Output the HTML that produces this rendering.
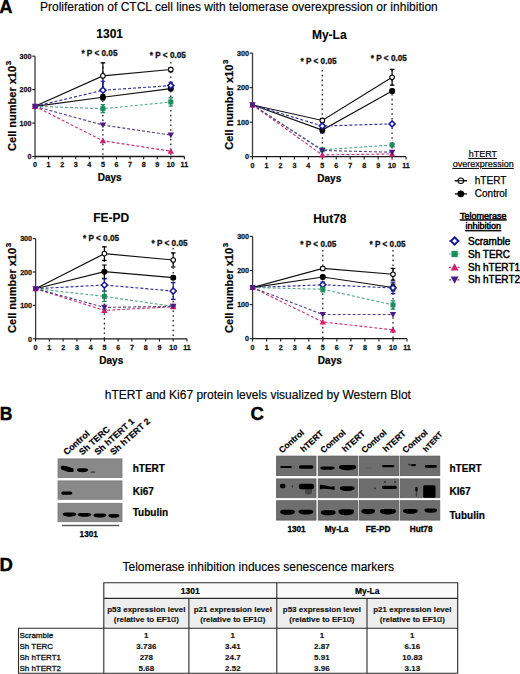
<!DOCTYPE html>
<html><head><meta charset="utf-8"><style>
html,body{margin:0;padding:0;background:#fff;}
body{width:520px;height:674px;overflow:hidden;position:relative;font-family:"Liberation Sans", sans-serif;}
svg{position:absolute;left:0;top:0;}
svg text{font-family:"Liberation Sans", sans-serif;}
</style></head><body>
<svg width="520" height="674" viewBox="0 0 520 674">
<text transform="translate(-0.8,12.6)" font-size="18.5" font-weight="bold" stroke="#000" stroke-width="0.3">A</text>
<text x="40.00" y="10.50" font-size="12" font-weight="normal" text-anchor="start" fill="#000" stroke="#000" stroke-width="0.15" >Proliferation of CTCL cell lines with telomerase overexpression or inhibition</text>
<text x="109.69" y="37.60" font-size="12" font-weight="bold" text-anchor="middle" fill="#000" stroke="#000" stroke-width="0.1" >1301</text>
<line x1="102.90" y1="62.00" x2="102.90" y2="156.50" stroke="#222" stroke-width="1.3" stroke-dasharray="1.6 3.2"/>
<line x1="170.80" y1="62.00" x2="170.80" y2="156.50" stroke="#222" stroke-width="1.3" stroke-dasharray="1.6 3.2"/>
<path d="M35.00,56.15 V156.50" fill="none" stroke="#3a3a3a" stroke-width="1.3"/>
<path d="M35.00,156.50 H184.38" fill="none" stroke="#1a1a1a" stroke-width="1.3"/>
<line x1="32.20" y1="156.50" x2="35.00" y2="156.50" stroke="#1a1a1a" stroke-width="1.1"/>
<text transform="translate(31.50,159.25) scale(0.92,1)" font-size="7.8" font-weight="bold" text-anchor="end" fill="#111" stroke="#111" stroke-width="0.25">0</text>
<line x1="32.20" y1="123.05" x2="35.00" y2="123.05" stroke="#1a1a1a" stroke-width="1.1"/>
<text transform="translate(31.50,125.80) scale(0.92,1)" font-size="7.8" font-weight="bold" text-anchor="end" fill="#111" stroke="#111" stroke-width="0.25">100</text>
<line x1="32.20" y1="89.60" x2="35.00" y2="89.60" stroke="#1a1a1a" stroke-width="1.1"/>
<text transform="translate(31.50,92.35) scale(0.92,1)" font-size="7.8" font-weight="bold" text-anchor="end" fill="#111" stroke="#111" stroke-width="0.25">200</text>
<line x1="32.20" y1="56.15" x2="35.00" y2="56.15" stroke="#1a1a1a" stroke-width="1.1"/>
<text transform="translate(31.50,58.90) scale(0.92,1)" font-size="7.8" font-weight="bold" text-anchor="end" fill="#111" stroke="#111" stroke-width="0.25">300</text>
<line x1="35.00" y1="156.50" x2="35.00" y2="159.30" stroke="#1a1a1a" stroke-width="1.1"/>
<text transform="translate(35.00,167.30) scale(0.92,1)" font-size="7.8" font-weight="bold" text-anchor="middle" fill="#111" stroke="#111" stroke-width="0.25">0</text>
<line x1="48.58" y1="156.50" x2="48.58" y2="159.30" stroke="#1a1a1a" stroke-width="1.1"/>
<text transform="translate(48.58,167.30) scale(0.92,1)" font-size="7.8" font-weight="bold" text-anchor="middle" fill="#111" stroke="#111" stroke-width="0.25">1</text>
<line x1="62.16" y1="156.50" x2="62.16" y2="159.30" stroke="#1a1a1a" stroke-width="1.1"/>
<text transform="translate(62.16,167.30) scale(0.92,1)" font-size="7.8" font-weight="bold" text-anchor="middle" fill="#111" stroke="#111" stroke-width="0.25">2</text>
<line x1="75.74" y1="156.50" x2="75.74" y2="159.30" stroke="#1a1a1a" stroke-width="1.1"/>
<text transform="translate(75.74,167.30) scale(0.92,1)" font-size="7.8" font-weight="bold" text-anchor="middle" fill="#111" stroke="#111" stroke-width="0.25">3</text>
<line x1="89.32" y1="156.50" x2="89.32" y2="159.30" stroke="#1a1a1a" stroke-width="1.1"/>
<text transform="translate(89.32,167.30) scale(0.92,1)" font-size="7.8" font-weight="bold" text-anchor="middle" fill="#111" stroke="#111" stroke-width="0.25">4</text>
<line x1="102.90" y1="156.50" x2="102.90" y2="159.30" stroke="#1a1a1a" stroke-width="1.1"/>
<text transform="translate(102.90,167.30) scale(0.92,1)" font-size="7.8" font-weight="bold" text-anchor="middle" fill="#111" stroke="#111" stroke-width="0.25">5</text>
<line x1="116.48" y1="156.50" x2="116.48" y2="159.30" stroke="#1a1a1a" stroke-width="1.1"/>
<text transform="translate(116.48,167.30) scale(0.92,1)" font-size="7.8" font-weight="bold" text-anchor="middle" fill="#111" stroke="#111" stroke-width="0.25">6</text>
<line x1="130.06" y1="156.50" x2="130.06" y2="159.30" stroke="#1a1a1a" stroke-width="1.1"/>
<text transform="translate(130.06,167.30) scale(0.92,1)" font-size="7.8" font-weight="bold" text-anchor="middle" fill="#111" stroke="#111" stroke-width="0.25">7</text>
<line x1="143.64" y1="156.50" x2="143.64" y2="159.30" stroke="#1a1a1a" stroke-width="1.1"/>
<text transform="translate(143.64,167.30) scale(0.92,1)" font-size="7.8" font-weight="bold" text-anchor="middle" fill="#111" stroke="#111" stroke-width="0.25">8</text>
<line x1="157.22" y1="156.50" x2="157.22" y2="159.30" stroke="#1a1a1a" stroke-width="1.1"/>
<text transform="translate(157.22,167.30) scale(0.92,1)" font-size="7.8" font-weight="bold" text-anchor="middle" fill="#111" stroke="#111" stroke-width="0.25">9</text>
<line x1="170.80" y1="156.50" x2="170.80" y2="159.30" stroke="#1a1a1a" stroke-width="1.1"/>
<text transform="translate(170.80,167.30) scale(0.92,1)" font-size="7.8" font-weight="bold" text-anchor="middle" fill="#111" stroke="#111" stroke-width="0.25">10</text>
<line x1="184.38" y1="156.50" x2="184.38" y2="159.30" stroke="#1a1a1a" stroke-width="1.1"/>
<text transform="translate(184.38,167.30) scale(0.92,1)" font-size="7.8" font-weight="bold" text-anchor="middle" fill="#111" stroke="#111" stroke-width="0.25">11</text>
<text x="109.69" y="181.30" font-size="10" font-weight="bold" text-anchor="middle" fill="#000" stroke="#000" stroke-width="0.2" >Days</text>
<text transform="translate(16.00,150.90) rotate(-90)" font-size="11" font-weight="bold" stroke="#000" stroke-width="0.2">Cell number x10<tspan font-size="8" dx="0.6" dy="-4.6">3</tspan></text>
<text x="81.40" y="56.20" font-size="8.2" font-weight="bold" text-anchor="start" fill="#111" stroke="#111" stroke-width="0.3" >* P &lt; 0.05</text>
<text x="149.80" y="58.10" font-size="8.2" font-weight="bold" text-anchor="start" fill="#111" stroke="#111" stroke-width="0.3" >* P &lt; 0.05</text>
<path d="M35.00,106.32 L102.90,75.89 L170.80,69.53" fill="none" stroke="#111" stroke-width="1.15" />
<path d="M35.00,106.32 L102.90,97.29 L170.80,88.60" fill="none" stroke="#111" stroke-width="1.15" />
<path d="M35.00,106.32 L102.90,90.27 L170.80,85.59" fill="none" stroke="#34349a" stroke-width="1.15" stroke-dasharray="3 2"/>
<path d="M35.00,106.32 L102.90,108.67 L170.80,101.98" fill="none" stroke="#5aa88c" stroke-width="1.15" stroke-dasharray="3 2"/>
<path d="M35.00,106.32 L102.90,140.78 L170.80,151.15" fill="none" stroke="#c4387c" stroke-width="1.15" stroke-dasharray="3 2"/>
<path d="M35.00,106.32 L102.90,125.06 L170.80,135.09" fill="none" stroke="#5a4480" stroke-width="1.15" stroke-dasharray="3 2"/>
<path d="M102.90,62.84 V88.93 M100.60,62.84 h4.6 M100.60,88.93 h4.6" stroke="#000" stroke-width="1.2" fill="none"/>
<path d="M170.80,67.52 V71.54 M168.50,67.52 h4.6 M168.50,71.54 h4.6" stroke="#000" stroke-width="1.2" fill="none"/>
<path d="M102.90,94.62 V99.97 M100.60,94.62 h4.6 M100.60,99.97 h4.6" stroke="#000" stroke-width="1.2" fill="none"/>
<path d="M170.80,86.59 V90.60 M168.50,86.59 h4.6 M168.50,90.60 h4.6" stroke="#000" stroke-width="1.2" fill="none"/>
<path d="M102.90,81.24 V99.30 M100.60,81.24 h4.6 M100.60,99.30 h4.6" stroke="#1a1a96" stroke-width="1.2" fill="none"/>
<path d="M170.80,82.24 V88.93 M168.50,82.24 h4.6 M168.50,88.93 h4.6" stroke="#1a1a96" stroke-width="1.2" fill="none"/>
<path d="M102.90,104.65 V112.68 M100.60,104.65 h4.6 M100.60,112.68 h4.6" stroke="#1c8c5e" stroke-width="1.2" fill="none"/>
<path d="M170.80,97.96 V105.99 M168.50,97.96 h4.6 M168.50,105.99 h4.6" stroke="#1c8c5e" stroke-width="1.2" fill="none"/>
<circle cx="102.90" cy="75.89" r="2.30" fill="#fff" stroke="#000" stroke-width="1.05"/>
<circle cx="170.80" cy="69.53" r="2.30" fill="#fff" stroke="#000" stroke-width="1.05"/>
<circle cx="102.90" cy="97.29" r="3.00" fill="#000"/>
<circle cx="170.80" cy="88.60" r="3.00" fill="#000"/>
<path d="M102.90,87.27 L105.90,90.27 L102.90,93.27 L99.90,90.27Z" fill="#fff" stroke="#1a1a96" stroke-width="1.55"/>
<path d="M170.80,82.59 L173.80,85.59 L170.80,88.59 L167.80,85.59Z" fill="#fff" stroke="#1a1a96" stroke-width="1.55"/>
<rect x="100.40" y="106.17" width="5.00" height="5.00" fill="#1c8c5e"/>
<rect x="168.30" y="99.48" width="5.00" height="5.00" fill="#1c8c5e"/>
<path d="M35.00,103.12 L38.20,108.88 L31.80,108.88Z" fill="#d81e6a"/>
<path d="M102.90,137.58 L106.10,143.34 L99.70,143.34Z" fill="#d81e6a"/>
<path d="M170.80,147.95 L174.00,153.71 L167.60,153.71Z" fill="#d81e6a"/>
<path d="M35.00,109.52 L38.20,103.76 L31.80,103.76Z" fill="#4e1a86"/>
<path d="M102.90,128.26 L106.10,122.50 L99.70,122.50Z" fill="#4e1a86"/>
<path d="M170.80,138.29 L174.00,132.53 L167.60,132.53Z" fill="#4e1a86"/>
<circle cx="35.00" cy="106.32" r="2.6" fill="#5a1a8a"/>
<text x="329.28" y="39.20" font-size="12" font-weight="bold" text-anchor="middle" fill="#000" stroke="#000" stroke-width="0.1" >My-La</text>
<line x1="322.30" y1="70.00" x2="322.30" y2="156.70" stroke="#222" stroke-width="1.3" stroke-dasharray="1.6 3.2"/>
<line x1="392.10" y1="70.00" x2="392.10" y2="156.70" stroke="#222" stroke-width="1.3" stroke-dasharray="1.6 3.2"/>
<path d="M252.50,53.11 V156.70" fill="none" stroke="#3a3a3a" stroke-width="1.3"/>
<path d="M252.50,156.70 H406.06" fill="none" stroke="#1a1a1a" stroke-width="1.3"/>
<line x1="249.70" y1="156.70" x2="252.50" y2="156.70" stroke="#1a1a1a" stroke-width="1.1"/>
<text transform="translate(249.00,159.45) scale(0.92,1)" font-size="7.8" font-weight="bold" text-anchor="end" fill="#111" stroke="#111" stroke-width="0.25">0</text>
<line x1="249.70" y1="122.17" x2="252.50" y2="122.17" stroke="#1a1a1a" stroke-width="1.1"/>
<text transform="translate(249.00,124.92) scale(0.92,1)" font-size="7.8" font-weight="bold" text-anchor="end" fill="#111" stroke="#111" stroke-width="0.25">100</text>
<line x1="249.70" y1="87.64" x2="252.50" y2="87.64" stroke="#1a1a1a" stroke-width="1.1"/>
<text transform="translate(249.00,90.39) scale(0.92,1)" font-size="7.8" font-weight="bold" text-anchor="end" fill="#111" stroke="#111" stroke-width="0.25">200</text>
<line x1="249.70" y1="53.11" x2="252.50" y2="53.11" stroke="#1a1a1a" stroke-width="1.1"/>
<text transform="translate(249.00,55.86) scale(0.92,1)" font-size="7.8" font-weight="bold" text-anchor="end" fill="#111" stroke="#111" stroke-width="0.25">300</text>
<line x1="252.50" y1="156.70" x2="252.50" y2="159.50" stroke="#1a1a1a" stroke-width="1.1"/>
<text transform="translate(252.50,167.50) scale(0.92,1)" font-size="7.8" font-weight="bold" text-anchor="middle" fill="#111" stroke="#111" stroke-width="0.25">0</text>
<line x1="266.46" y1="156.70" x2="266.46" y2="159.50" stroke="#1a1a1a" stroke-width="1.1"/>
<text transform="translate(266.46,167.50) scale(0.92,1)" font-size="7.8" font-weight="bold" text-anchor="middle" fill="#111" stroke="#111" stroke-width="0.25">1</text>
<line x1="280.42" y1="156.70" x2="280.42" y2="159.50" stroke="#1a1a1a" stroke-width="1.1"/>
<text transform="translate(280.42,167.50) scale(0.92,1)" font-size="7.8" font-weight="bold" text-anchor="middle" fill="#111" stroke="#111" stroke-width="0.25">2</text>
<line x1="294.38" y1="156.70" x2="294.38" y2="159.50" stroke="#1a1a1a" stroke-width="1.1"/>
<text transform="translate(294.38,167.50) scale(0.92,1)" font-size="7.8" font-weight="bold" text-anchor="middle" fill="#111" stroke="#111" stroke-width="0.25">3</text>
<line x1="308.34" y1="156.70" x2="308.34" y2="159.50" stroke="#1a1a1a" stroke-width="1.1"/>
<text transform="translate(308.34,167.50) scale(0.92,1)" font-size="7.8" font-weight="bold" text-anchor="middle" fill="#111" stroke="#111" stroke-width="0.25">4</text>
<line x1="322.30" y1="156.70" x2="322.30" y2="159.50" stroke="#1a1a1a" stroke-width="1.1"/>
<text transform="translate(322.30,167.50) scale(0.92,1)" font-size="7.8" font-weight="bold" text-anchor="middle" fill="#111" stroke="#111" stroke-width="0.25">5</text>
<line x1="336.26" y1="156.70" x2="336.26" y2="159.50" stroke="#1a1a1a" stroke-width="1.1"/>
<text transform="translate(336.26,167.50) scale(0.92,1)" font-size="7.8" font-weight="bold" text-anchor="middle" fill="#111" stroke="#111" stroke-width="0.25">6</text>
<line x1="350.22" y1="156.70" x2="350.22" y2="159.50" stroke="#1a1a1a" stroke-width="1.1"/>
<text transform="translate(350.22,167.50) scale(0.92,1)" font-size="7.8" font-weight="bold" text-anchor="middle" fill="#111" stroke="#111" stroke-width="0.25">7</text>
<line x1="364.18" y1="156.70" x2="364.18" y2="159.50" stroke="#1a1a1a" stroke-width="1.1"/>
<text transform="translate(364.18,167.50) scale(0.92,1)" font-size="7.8" font-weight="bold" text-anchor="middle" fill="#111" stroke="#111" stroke-width="0.25">8</text>
<line x1="378.14" y1="156.70" x2="378.14" y2="159.50" stroke="#1a1a1a" stroke-width="1.1"/>
<text transform="translate(378.14,167.50) scale(0.92,1)" font-size="7.8" font-weight="bold" text-anchor="middle" fill="#111" stroke="#111" stroke-width="0.25">9</text>
<line x1="392.10" y1="156.70" x2="392.10" y2="159.50" stroke="#1a1a1a" stroke-width="1.1"/>
<text transform="translate(392.10,167.50) scale(0.92,1)" font-size="7.8" font-weight="bold" text-anchor="middle" fill="#111" stroke="#111" stroke-width="0.25">10</text>
<line x1="406.06" y1="156.70" x2="406.06" y2="159.50" stroke="#1a1a1a" stroke-width="1.1"/>
<text transform="translate(406.06,167.50) scale(0.92,1)" font-size="7.8" font-weight="bold" text-anchor="middle" fill="#111" stroke="#111" stroke-width="0.25">11</text>
<text x="329.28" y="181.50" font-size="10" font-weight="bold" text-anchor="middle" fill="#000" stroke="#000" stroke-width="0.2" >Days</text>
<text transform="translate(233.00,149.70) rotate(-90)" font-size="11" font-weight="bold" stroke="#000" stroke-width="0.2">Cell number x10<tspan font-size="8" dx="0.6" dy="-4.6">3</tspan></text>
<text x="300.50" y="64.30" font-size="8.2" font-weight="bold" text-anchor="start" fill="#111" stroke="#111" stroke-width="0.3" >* P &lt; 0.05</text>
<text x="370.80" y="61.30" font-size="8.2" font-weight="bold" text-anchor="start" fill="#111" stroke="#111" stroke-width="0.3" >* P &lt; 0.05</text>
<path d="M252.50,104.90 L322.30,120.44 L392.10,77.28" fill="none" stroke="#111" stroke-width="1.15" />
<path d="M252.50,104.90 L322.30,130.11 L392.10,91.09" fill="none" stroke="#111" stroke-width="1.15" />
<path d="M252.50,104.90 L322.30,125.97 L392.10,123.90" fill="none" stroke="#34349a" stroke-width="1.15" stroke-dasharray="3 2"/>
<path d="M252.50,104.90 L322.30,149.79 L392.10,144.96" fill="none" stroke="#5aa88c" stroke-width="1.15" stroke-dasharray="3 2"/>
<path d="M252.50,104.90 L322.30,154.97 L392.10,153.94" fill="none" stroke="#c4387c" stroke-width="1.15" stroke-dasharray="3 2"/>
<path d="M252.50,104.90 L322.30,150.48 L392.10,152.21" fill="none" stroke="#5a4480" stroke-width="1.15" stroke-dasharray="3 2"/>
<path d="M322.30,118.72 V122.17 M320.00,118.72 h4.6 M320.00,122.17 h4.6" stroke="#000" stroke-width="1.2" fill="none"/>
<path d="M392.10,69.34 V85.22 M389.80,69.34 h4.6 M389.80,85.22 h4.6" stroke="#000" stroke-width="1.2" fill="none"/>
<path d="M322.30,127.35 V132.87 M320.00,127.35 h4.6 M320.00,132.87 h4.6" stroke="#000" stroke-width="1.2" fill="none"/>
<path d="M392.10,89.37 V92.82 M389.80,89.37 h4.6 M389.80,92.82 h4.6" stroke="#000" stroke-width="1.2" fill="none"/>
<path d="M322.30,124.24 V127.69 M320.00,124.24 h4.6 M320.00,127.69 h4.6" stroke="#1a1a96" stroke-width="1.2" fill="none"/>
<circle cx="322.30" cy="120.44" r="2.30" fill="#fff" stroke="#000" stroke-width="1.05"/>
<circle cx="392.10" cy="77.28" r="2.30" fill="#fff" stroke="#000" stroke-width="1.05"/>
<circle cx="322.30" cy="130.11" r="3.00" fill="#000"/>
<circle cx="392.10" cy="91.09" r="3.00" fill="#000"/>
<path d="M322.30,122.97 L325.30,125.97 L322.30,128.97 L319.30,125.97Z" fill="#fff" stroke="#1a1a96" stroke-width="1.55"/>
<path d="M392.10,120.90 L395.10,123.90 L392.10,126.90 L389.10,123.90Z" fill="#fff" stroke="#1a1a96" stroke-width="1.55"/>
<rect x="319.80" y="147.29" width="5.00" height="5.00" fill="#1c8c5e"/>
<rect x="389.60" y="142.46" width="5.00" height="5.00" fill="#1c8c5e"/>
<path d="M252.50,101.70 L255.70,107.46 L249.30,107.46Z" fill="#d81e6a"/>
<path d="M322.30,151.77 L325.50,157.53 L319.10,157.53Z" fill="#d81e6a"/>
<path d="M392.10,150.74 L395.30,156.50 L388.90,156.50Z" fill="#d81e6a"/>
<path d="M252.50,108.10 L255.70,102.34 L249.30,102.34Z" fill="#4e1a86"/>
<path d="M322.30,153.68 L325.50,147.92 L319.10,147.92Z" fill="#4e1a86"/>
<path d="M392.10,155.41 L395.30,149.65 L388.90,149.65Z" fill="#4e1a86"/>
<circle cx="252.50" cy="104.90" r="2.6" fill="#5a1a8a"/>
<text x="111.28" y="221.50" font-size="12" font-weight="bold" text-anchor="middle" fill="#000" stroke="#000" stroke-width="0.1" >FE-PD</text>
<line x1="104.40" y1="246.00" x2="104.40" y2="338.80" stroke="#222" stroke-width="1.3" stroke-dasharray="1.6 3.2"/>
<line x1="173.20" y1="248.00" x2="173.20" y2="338.80" stroke="#222" stroke-width="1.3" stroke-dasharray="1.6 3.2"/>
<path d="M35.60,238.60 V338.80" fill="none" stroke="#3a3a3a" stroke-width="1.3"/>
<path d="M35.60,338.80 H186.96" fill="none" stroke="#1a1a1a" stroke-width="1.3"/>
<line x1="32.80" y1="338.80" x2="35.60" y2="338.80" stroke="#1a1a1a" stroke-width="1.1"/>
<text transform="translate(32.10,341.55) scale(0.92,1)" font-size="7.8" font-weight="bold" text-anchor="end" fill="#111" stroke="#111" stroke-width="0.25">0</text>
<line x1="32.80" y1="305.40" x2="35.60" y2="305.40" stroke="#1a1a1a" stroke-width="1.1"/>
<text transform="translate(32.10,308.15) scale(0.92,1)" font-size="7.8" font-weight="bold" text-anchor="end" fill="#111" stroke="#111" stroke-width="0.25">100</text>
<line x1="32.80" y1="272.00" x2="35.60" y2="272.00" stroke="#1a1a1a" stroke-width="1.1"/>
<text transform="translate(32.10,274.75) scale(0.92,1)" font-size="7.8" font-weight="bold" text-anchor="end" fill="#111" stroke="#111" stroke-width="0.25">200</text>
<line x1="32.80" y1="238.60" x2="35.60" y2="238.60" stroke="#1a1a1a" stroke-width="1.1"/>
<text transform="translate(32.10,241.35) scale(0.92,1)" font-size="7.8" font-weight="bold" text-anchor="end" fill="#111" stroke="#111" stroke-width="0.25">300</text>
<line x1="35.60" y1="338.80" x2="35.60" y2="341.60" stroke="#1a1a1a" stroke-width="1.1"/>
<text transform="translate(35.60,349.60) scale(0.92,1)" font-size="7.8" font-weight="bold" text-anchor="middle" fill="#111" stroke="#111" stroke-width="0.25">0</text>
<line x1="49.36" y1="338.80" x2="49.36" y2="341.60" stroke="#1a1a1a" stroke-width="1.1"/>
<text transform="translate(49.36,349.60) scale(0.92,1)" font-size="7.8" font-weight="bold" text-anchor="middle" fill="#111" stroke="#111" stroke-width="0.25">1</text>
<line x1="63.12" y1="338.80" x2="63.12" y2="341.60" stroke="#1a1a1a" stroke-width="1.1"/>
<text transform="translate(63.12,349.60) scale(0.92,1)" font-size="7.8" font-weight="bold" text-anchor="middle" fill="#111" stroke="#111" stroke-width="0.25">2</text>
<line x1="76.88" y1="338.80" x2="76.88" y2="341.60" stroke="#1a1a1a" stroke-width="1.1"/>
<text transform="translate(76.88,349.60) scale(0.92,1)" font-size="7.8" font-weight="bold" text-anchor="middle" fill="#111" stroke="#111" stroke-width="0.25">3</text>
<line x1="90.64" y1="338.80" x2="90.64" y2="341.60" stroke="#1a1a1a" stroke-width="1.1"/>
<text transform="translate(90.64,349.60) scale(0.92,1)" font-size="7.8" font-weight="bold" text-anchor="middle" fill="#111" stroke="#111" stroke-width="0.25">4</text>
<line x1="104.40" y1="338.80" x2="104.40" y2="341.60" stroke="#1a1a1a" stroke-width="1.1"/>
<text transform="translate(104.40,349.60) scale(0.92,1)" font-size="7.8" font-weight="bold" text-anchor="middle" fill="#111" stroke="#111" stroke-width="0.25">5</text>
<line x1="118.16" y1="338.80" x2="118.16" y2="341.60" stroke="#1a1a1a" stroke-width="1.1"/>
<text transform="translate(118.16,349.60) scale(0.92,1)" font-size="7.8" font-weight="bold" text-anchor="middle" fill="#111" stroke="#111" stroke-width="0.25">6</text>
<line x1="131.92" y1="338.80" x2="131.92" y2="341.60" stroke="#1a1a1a" stroke-width="1.1"/>
<text transform="translate(131.92,349.60) scale(0.92,1)" font-size="7.8" font-weight="bold" text-anchor="middle" fill="#111" stroke="#111" stroke-width="0.25">7</text>
<line x1="145.68" y1="338.80" x2="145.68" y2="341.60" stroke="#1a1a1a" stroke-width="1.1"/>
<text transform="translate(145.68,349.60) scale(0.92,1)" font-size="7.8" font-weight="bold" text-anchor="middle" fill="#111" stroke="#111" stroke-width="0.25">8</text>
<line x1="159.44" y1="338.80" x2="159.44" y2="341.60" stroke="#1a1a1a" stroke-width="1.1"/>
<text transform="translate(159.44,349.60) scale(0.92,1)" font-size="7.8" font-weight="bold" text-anchor="middle" fill="#111" stroke="#111" stroke-width="0.25">9</text>
<line x1="173.20" y1="338.80" x2="173.20" y2="341.60" stroke="#1a1a1a" stroke-width="1.1"/>
<text transform="translate(173.20,349.60) scale(0.92,1)" font-size="7.8" font-weight="bold" text-anchor="middle" fill="#111" stroke="#111" stroke-width="0.25">10</text>
<line x1="186.96" y1="338.80" x2="186.96" y2="341.60" stroke="#1a1a1a" stroke-width="1.1"/>
<text transform="translate(186.96,349.60) scale(0.92,1)" font-size="7.8" font-weight="bold" text-anchor="middle" fill="#111" stroke="#111" stroke-width="0.25">11</text>
<text x="111.28" y="363.60" font-size="10" font-weight="bold" text-anchor="middle" fill="#000" stroke="#000" stroke-width="0.2" >Days</text>
<text transform="translate(15.70,332.90) rotate(-90)" font-size="11" font-weight="bold" stroke="#000" stroke-width="0.2">Cell number x10<tspan font-size="8" dx="0.6" dy="-4.6">3</tspan></text>
<text x="83.00" y="241.00" font-size="8.2" font-weight="bold" text-anchor="start" fill="#111" stroke="#111" stroke-width="0.3" >* P &lt; 0.05</text>
<text x="151.50" y="245.80" font-size="8.2" font-weight="bold" text-anchor="start" fill="#111" stroke="#111" stroke-width="0.3" >* P &lt; 0.05</text>
<path d="M35.60,288.70 L104.40,253.63 L173.20,259.98" fill="none" stroke="#111" stroke-width="1.15" />
<path d="M35.60,288.70 L104.40,271.67 L173.20,277.68" fill="none" stroke="#111" stroke-width="1.15" />
<path d="M35.60,288.70 L104.40,285.03 L173.20,291.04" fill="none" stroke="#34349a" stroke-width="1.15" stroke-dasharray="3 2"/>
<path d="M35.60,288.70 L104.40,296.38 L173.20,306.40" fill="none" stroke="#5aa88c" stroke-width="1.15" stroke-dasharray="3 2"/>
<path d="M35.60,288.70 L104.40,310.41 L173.20,306.74" fill="none" stroke="#c4387c" stroke-width="1.15" stroke-dasharray="3 2"/>
<path d="M35.60,288.70 L104.40,307.40 L173.20,306.40" fill="none" stroke="#5a4480" stroke-width="1.15" stroke-dasharray="3 2"/>
<path d="M104.40,246.95 V260.31 M102.10,246.95 h4.6 M102.10,260.31 h4.6" stroke="#000" stroke-width="1.2" fill="none"/>
<path d="M173.20,252.96 V266.99 M170.90,252.96 h4.6 M170.90,266.99 h4.6" stroke="#000" stroke-width="1.2" fill="none"/>
<path d="M104.40,264.99 V278.35 M102.10,264.99 h4.6 M102.10,278.35 h4.6" stroke="#000" stroke-width="1.2" fill="none"/>
<path d="M173.20,276.01 V279.35 M170.90,276.01 h4.6 M170.90,279.35 h4.6" stroke="#000" stroke-width="1.2" fill="none"/>
<path d="M104.40,279.01 V291.04 M102.10,279.01 h4.6 M102.10,291.04 h4.6" stroke="#1a1a96" stroke-width="1.2" fill="none"/>
<path d="M173.20,282.69 V299.39 M170.90,282.69 h4.6 M170.90,299.39 h4.6" stroke="#1a1a96" stroke-width="1.2" fill="none"/>
<path d="M104.40,291.37 V301.39 M102.10,291.37 h4.6 M102.10,301.39 h4.6" stroke="#1c8c5e" stroke-width="1.2" fill="none"/>
<path d="M104.40,305.73 V309.07 M102.10,305.73 h4.6 M102.10,309.07 h4.6" stroke="#4e1a86" stroke-width="1.2" fill="none"/>
<circle cx="104.40" cy="253.63" r="2.30" fill="#fff" stroke="#000" stroke-width="1.05"/>
<circle cx="173.20" cy="259.98" r="2.30" fill="#fff" stroke="#000" stroke-width="1.05"/>
<circle cx="104.40" cy="271.67" r="3.00" fill="#000"/>
<circle cx="173.20" cy="277.68" r="3.00" fill="#000"/>
<path d="M104.40,282.03 L107.40,285.03 L104.40,288.03 L101.40,285.03Z" fill="#fff" stroke="#1a1a96" stroke-width="1.55"/>
<path d="M173.20,288.04 L176.20,291.04 L173.20,294.04 L170.20,291.04Z" fill="#fff" stroke="#1a1a96" stroke-width="1.55"/>
<rect x="101.90" y="293.88" width="5.00" height="5.00" fill="#1c8c5e"/>
<rect x="170.70" y="303.90" width="5.00" height="5.00" fill="#1c8c5e"/>
<path d="M35.60,285.50 L38.80,291.26 L32.40,291.26Z" fill="#d81e6a"/>
<path d="M104.40,307.21 L107.60,312.97 L101.20,312.97Z" fill="#d81e6a"/>
<path d="M173.20,303.54 L176.40,309.30 L170.00,309.30Z" fill="#d81e6a"/>
<path d="M35.60,291.90 L38.80,286.14 L32.40,286.14Z" fill="#4e1a86"/>
<path d="M104.40,310.60 L107.60,304.84 L101.20,304.84Z" fill="#4e1a86"/>
<path d="M173.20,309.60 L176.40,303.84 L170.00,303.84Z" fill="#4e1a86"/>
<circle cx="35.60" cy="288.70" r="2.6" fill="#5a1a8a"/>
<text x="329.82" y="223.00" font-size="12" font-weight="bold" text-anchor="middle" fill="#000" stroke="#000" stroke-width="0.1" >Hut78</text>
<line x1="322.80" y1="250.00" x2="322.80" y2="338.70" stroke="#222" stroke-width="1.3" stroke-dasharray="1.6 3.2"/>
<line x1="393.00" y1="250.00" x2="393.00" y2="338.70" stroke="#222" stroke-width="1.3" stroke-dasharray="1.6 3.2"/>
<path d="M252.60,236.40 V338.70" fill="none" stroke="#3a3a3a" stroke-width="1.3"/>
<path d="M252.60,338.70 H407.04" fill="none" stroke="#1a1a1a" stroke-width="1.3"/>
<line x1="249.80" y1="338.70" x2="252.60" y2="338.70" stroke="#1a1a1a" stroke-width="1.1"/>
<text transform="translate(249.10,341.45) scale(0.92,1)" font-size="7.8" font-weight="bold" text-anchor="end" fill="#111" stroke="#111" stroke-width="0.25">0</text>
<line x1="249.80" y1="304.60" x2="252.60" y2="304.60" stroke="#1a1a1a" stroke-width="1.1"/>
<text transform="translate(249.10,307.35) scale(0.92,1)" font-size="7.8" font-weight="bold" text-anchor="end" fill="#111" stroke="#111" stroke-width="0.25">100</text>
<line x1="249.80" y1="270.50" x2="252.60" y2="270.50" stroke="#1a1a1a" stroke-width="1.1"/>
<text transform="translate(249.10,273.25) scale(0.92,1)" font-size="7.8" font-weight="bold" text-anchor="end" fill="#111" stroke="#111" stroke-width="0.25">200</text>
<line x1="249.80" y1="236.40" x2="252.60" y2="236.40" stroke="#1a1a1a" stroke-width="1.1"/>
<text transform="translate(249.10,239.15) scale(0.92,1)" font-size="7.8" font-weight="bold" text-anchor="end" fill="#111" stroke="#111" stroke-width="0.25">300</text>
<line x1="252.60" y1="338.70" x2="252.60" y2="341.50" stroke="#1a1a1a" stroke-width="1.1"/>
<text transform="translate(252.60,349.50) scale(0.92,1)" font-size="7.8" font-weight="bold" text-anchor="middle" fill="#111" stroke="#111" stroke-width="0.25">0</text>
<line x1="266.64" y1="338.70" x2="266.64" y2="341.50" stroke="#1a1a1a" stroke-width="1.1"/>
<text transform="translate(266.64,349.50) scale(0.92,1)" font-size="7.8" font-weight="bold" text-anchor="middle" fill="#111" stroke="#111" stroke-width="0.25">1</text>
<line x1="280.68" y1="338.70" x2="280.68" y2="341.50" stroke="#1a1a1a" stroke-width="1.1"/>
<text transform="translate(280.68,349.50) scale(0.92,1)" font-size="7.8" font-weight="bold" text-anchor="middle" fill="#111" stroke="#111" stroke-width="0.25">2</text>
<line x1="294.72" y1="338.70" x2="294.72" y2="341.50" stroke="#1a1a1a" stroke-width="1.1"/>
<text transform="translate(294.72,349.50) scale(0.92,1)" font-size="7.8" font-weight="bold" text-anchor="middle" fill="#111" stroke="#111" stroke-width="0.25">3</text>
<line x1="308.76" y1="338.70" x2="308.76" y2="341.50" stroke="#1a1a1a" stroke-width="1.1"/>
<text transform="translate(308.76,349.50) scale(0.92,1)" font-size="7.8" font-weight="bold" text-anchor="middle" fill="#111" stroke="#111" stroke-width="0.25">4</text>
<line x1="322.80" y1="338.70" x2="322.80" y2="341.50" stroke="#1a1a1a" stroke-width="1.1"/>
<text transform="translate(322.80,349.50) scale(0.92,1)" font-size="7.8" font-weight="bold" text-anchor="middle" fill="#111" stroke="#111" stroke-width="0.25">5</text>
<line x1="336.84" y1="338.70" x2="336.84" y2="341.50" stroke="#1a1a1a" stroke-width="1.1"/>
<text transform="translate(336.84,349.50) scale(0.92,1)" font-size="7.8" font-weight="bold" text-anchor="middle" fill="#111" stroke="#111" stroke-width="0.25">6</text>
<line x1="350.88" y1="338.70" x2="350.88" y2="341.50" stroke="#1a1a1a" stroke-width="1.1"/>
<text transform="translate(350.88,349.50) scale(0.92,1)" font-size="7.8" font-weight="bold" text-anchor="middle" fill="#111" stroke="#111" stroke-width="0.25">7</text>
<line x1="364.92" y1="338.70" x2="364.92" y2="341.50" stroke="#1a1a1a" stroke-width="1.1"/>
<text transform="translate(364.92,349.50) scale(0.92,1)" font-size="7.8" font-weight="bold" text-anchor="middle" fill="#111" stroke="#111" stroke-width="0.25">8</text>
<line x1="378.96" y1="338.70" x2="378.96" y2="341.50" stroke="#1a1a1a" stroke-width="1.1"/>
<text transform="translate(378.96,349.50) scale(0.92,1)" font-size="7.8" font-weight="bold" text-anchor="middle" fill="#111" stroke="#111" stroke-width="0.25">9</text>
<line x1="393.00" y1="338.70" x2="393.00" y2="341.50" stroke="#1a1a1a" stroke-width="1.1"/>
<text transform="translate(393.00,349.50) scale(0.92,1)" font-size="7.8" font-weight="bold" text-anchor="middle" fill="#111" stroke="#111" stroke-width="0.25">10</text>
<line x1="407.04" y1="338.70" x2="407.04" y2="341.50" stroke="#1a1a1a" stroke-width="1.1"/>
<text transform="translate(407.04,349.50) scale(0.92,1)" font-size="7.8" font-weight="bold" text-anchor="middle" fill="#111" stroke="#111" stroke-width="0.25">11</text>
<text x="329.82" y="363.50" font-size="10" font-weight="bold" text-anchor="middle" fill="#000" stroke="#000" stroke-width="0.2" >Days</text>
<text transform="translate(232.70,332.90) rotate(-90)" font-size="11" font-weight="bold" stroke="#000" stroke-width="0.2">Cell number x10<tspan font-size="8" dx="0.6" dy="-4.6">3</tspan></text>
<text x="300.30" y="247.00" font-size="8.2" font-weight="bold" text-anchor="start" fill="#111" stroke="#111" stroke-width="0.3" >* P &lt; 0.05</text>
<text x="369.50" y="247.00" font-size="8.2" font-weight="bold" text-anchor="start" fill="#111" stroke="#111" stroke-width="0.3" >* P &lt; 0.05</text>
<path d="M252.60,287.55 L322.80,268.45 L393.00,274.25" fill="none" stroke="#111" stroke-width="1.15" />
<path d="M252.60,287.55 L322.80,276.98 L393.00,287.55" fill="none" stroke="#111" stroke-width="1.15" />
<path d="M252.60,287.55 L322.80,284.82 L393.00,287.89" fill="none" stroke="#34349a" stroke-width="1.15" stroke-dasharray="3 2"/>
<path d="M252.60,287.55 L322.80,289.25 L393.00,304.94" fill="none" stroke="#5aa88c" stroke-width="1.15" stroke-dasharray="3 2"/>
<path d="M252.60,287.55 L322.80,321.99 L393.00,329.83" fill="none" stroke="#c4387c" stroke-width="1.15" stroke-dasharray="3 2"/>
<path d="M252.60,287.55 L322.80,314.49 L393.00,314.49" fill="none" stroke="#5a4480" stroke-width="1.15" stroke-dasharray="3 2"/>
<path d="M322.80,266.75 V270.16 M320.50,266.75 h4.6 M320.50,270.16 h4.6" stroke="#000" stroke-width="1.2" fill="none"/>
<path d="M393.00,268.45 V280.05 M390.70,268.45 h4.6 M390.70,280.05 h4.6" stroke="#000" stroke-width="1.2" fill="none"/>
<path d="M322.80,275.27 V278.68 M320.50,275.27 h4.6 M320.50,278.68 h4.6" stroke="#000" stroke-width="1.2" fill="none"/>
<path d="M393.00,284.14 V290.96 M390.70,284.14 h4.6 M390.70,290.96 h4.6" stroke="#000" stroke-width="1.2" fill="none"/>
<path d="M322.80,282.09 V287.55 M320.50,282.09 h4.6 M320.50,287.55 h4.6" stroke="#1a1a96" stroke-width="1.2" fill="none"/>
<path d="M393.00,282.09 V293.69 M390.70,282.09 h4.6 M390.70,293.69 h4.6" stroke="#1a1a96" stroke-width="1.2" fill="none"/>
<path d="M322.80,286.53 V291.98 M320.50,286.53 h4.6 M320.50,291.98 h4.6" stroke="#1c8c5e" stroke-width="1.2" fill="none"/>
<path d="M393.00,300.85 V309.03 M390.70,300.85 h4.6 M390.70,309.03 h4.6" stroke="#1c8c5e" stroke-width="1.2" fill="none"/>
<circle cx="322.80" cy="268.45" r="2.30" fill="#fff" stroke="#000" stroke-width="1.05"/>
<circle cx="393.00" cy="274.25" r="2.30" fill="#fff" stroke="#000" stroke-width="1.05"/>
<circle cx="322.80" cy="276.98" r="3.00" fill="#000"/>
<circle cx="393.00" cy="287.55" r="3.00" fill="#000"/>
<path d="M322.80,281.82 L325.80,284.82 L322.80,287.82 L319.80,284.82Z" fill="#fff" stroke="#1a1a96" stroke-width="1.55"/>
<path d="M393.00,284.89 L396.00,287.89 L393.00,290.89 L390.00,287.89Z" fill="#fff" stroke="#1a1a96" stroke-width="1.55"/>
<rect x="320.30" y="286.75" width="5.00" height="5.00" fill="#1c8c5e"/>
<rect x="390.50" y="302.44" width="5.00" height="5.00" fill="#1c8c5e"/>
<path d="M252.60,284.35 L255.80,290.11 L249.40,290.11Z" fill="#d81e6a"/>
<path d="M322.80,318.79 L326.00,324.55 L319.60,324.55Z" fill="#d81e6a"/>
<path d="M393.00,326.63 L396.20,332.39 L389.80,332.39Z" fill="#d81e6a"/>
<path d="M252.60,290.75 L255.80,284.99 L249.40,284.99Z" fill="#4e1a86"/>
<path d="M322.80,317.69 L326.00,311.93 L319.60,311.93Z" fill="#4e1a86"/>
<path d="M393.00,317.69 L396.20,311.93 L389.80,311.93Z" fill="#4e1a86"/>
<circle cx="252.60" cy="287.55" r="2.6" fill="#5a1a8a"/>
<text x="482.80" y="157.00" font-size="9" font-weight="normal" text-anchor="middle" fill="#000" stroke="#000" stroke-width="0.2" text-decoration="underline">hTERT</text>
<text x="483.20" y="167.00" font-size="9" font-weight="normal" text-anchor="middle" fill="#000" stroke="#000" stroke-width="0.2" text-decoration="underline">overexpression</text>
<line x1="454.8" y1="180.7" x2="466.8" y2="180.7" stroke="#000" stroke-width="1.3"/>
<circle cx="460.80" cy="180.70" r="2.76" fill="#fff" stroke="#000" stroke-width="1.05"/>
<line x1="454.8" y1="180.7" x2="466.8" y2="180.7" stroke="#000" stroke-width="1"/>
<text x="474.80" y="184.20" font-size="10" font-weight="normal" text-anchor="start" fill="#000" stroke="#000" stroke-width="0.25" >hTERT</text>
<line x1="454.8" y1="193.9" x2="466.8" y2="193.9" stroke="#000" stroke-width="1.3"/>
<circle cx="460.80" cy="193.90" r="3.30" fill="#000"/>
<text x="474.80" y="197.40" font-size="10" font-weight="normal" text-anchor="start" fill="#000" stroke="#000" stroke-width="0.25" >Control</text>
<text x="483.30" y="218.50" font-size="9" font-weight="normal" text-anchor="middle" fill="#000" stroke="#000" stroke-width="0.5" text-decoration="underline">Telomerase</text>
<text x="483.30" y="229.20" font-size="9" font-weight="normal" text-anchor="middle" fill="#000" stroke="#000" stroke-width="0.5" text-decoration="underline">inhibition</text>
<line x1="449" y1="241" x2="460.5" y2="241" stroke="#34349a" stroke-width="1.2" stroke-dasharray="2 6.5"/>
<path d="M454.60,237.25 L458.35,241.00 L454.60,244.75 L450.85,241.00Z" fill="#fff" stroke="#1a1a96" stroke-width="1.94"/>
<text x="468.00" y="244.60" font-size="10" font-weight="normal" text-anchor="start" fill="#000" stroke="#000" stroke-width="0.45" >Scramble</text>
<line x1="449" y1="254" x2="460.5" y2="254" stroke="#5aa88c" stroke-width="1.2" stroke-dasharray="2 6.5"/>
<rect x="451.48" y="250.88" width="6.25" height="6.25" fill="#1c8c5e"/>
<text x="468.00" y="257.60" font-size="10" font-weight="normal" text-anchor="start" fill="#000" stroke="#000" stroke-width="0.45" >Sh TERC</text>
<line x1="449" y1="267.3" x2="460.5" y2="267.3" stroke="#c4387c" stroke-width="1.2" stroke-dasharray="2 6.5"/>
<path d="M454.60,263.30 L458.60,270.50 L450.60,270.50Z" fill="#d81e6a"/>
<text x="468.00" y="270.90" font-size="10" font-weight="normal" text-anchor="start" fill="#000" stroke="#000" stroke-width="0.45" >Sh hTERT1</text>
<line x1="449" y1="279.8" x2="460.5" y2="279.8" stroke="#5a4480" stroke-width="1.2" stroke-dasharray="2 6.5"/>
<path d="M454.60,283.80 L458.60,276.60 L450.60,276.60Z" fill="#4e1a86"/>
<text x="468.00" y="283.40" font-size="10" font-weight="normal" text-anchor="start" fill="#000" stroke="#000" stroke-width="0.45" >Sh hTERT2</text>
<text x="104.80" y="398.50" font-size="12" font-weight="normal" text-anchor="start" fill="#000" stroke="#000" stroke-width="0.15" >hTERT and Ki67 protein levels visualized by Western Blot</text>
<text transform="translate(-0.3,419.6) scale(0.95,1)" font-size="18.5" font-weight="bold" stroke="#000" stroke-width="0.4">B</text>
<text transform="translate(250.6,420.0)" font-size="18.5" font-weight="bold" stroke="#000" stroke-width="0.4">C</text>
<defs><filter id="b1" x="-50%" y="-100%" width="200%" height="300%"><feGaussianBlur stdDeviation="0.6"/></filter><filter id="b2" x="-50%" y="-100%" width="200%" height="300%"><feGaussianBlur stdDeviation="0.55"/></filter></defs>
<rect x="58" y="458.9" width="64.00" height="18.50" fill="#898989" stroke="#777" stroke-width="0.8"/>
<rect x="58" y="480.9" width="64.00" height="18.40" fill="#898989" stroke="#777" stroke-width="0.8"/>
<rect x="58" y="503.3" width="64.00" height="18.40" fill="#898989" stroke="#777" stroke-width="0.8"/>
<path d="M60.8,466.2 Q62,465.2 66,466.0 L73.4,468.4 L73.6,471.8 Q70,472.6 66,471.2 L61.4,469.4 Q60.4,468 60.8,466.2Z" fill="#050505" filter="url(#b2)"/>
<path d="M76.90,469.90 C76.90,468.30 78.90,468.30 82.45,468.30 C86.00,468.30 88.00,468.30 88.00,469.90 C88.00,472.90 76.90,472.90 76.90,469.90Z" fill="#050505" opacity="1.0" filter="url(#b2)"/>
<rect x="90.70" y="471.60" width="4.50" height="1.20" rx="0.60" fill="#050505" opacity="0.6" filter="url(#b1)"/>
<rect x="61.20" y="491.50" width="11.10" height="3.20" rx="1.60" fill="#050505" opacity="1.0" filter="url(#b2)"/>
<path d="M62.80,514.36 C62.80,512.60 64.80,512.60 69.55,512.60 C74.30,512.60 76.30,512.60 76.30,514.36 C76.30,517.66 62.80,517.66 62.80,514.36Z" fill="#050505" opacity="1.0" filter="url(#b2)"/>
<path d="M77.60,514.54 C77.60,512.90 79.60,512.90 84.45,512.90 C89.30,512.90 91.30,512.90 91.30,514.54 C91.30,517.62 77.60,517.62 77.60,514.54Z" fill="#050505" opacity="1.0" filter="url(#b2)"/>
<path d="M93.50,515.14 C93.50,513.50 95.50,513.50 99.90,513.50 C104.30,513.50 106.30,513.50 106.30,515.14 C106.30,518.22 93.50,518.22 93.50,515.14Z" fill="#050505" opacity="1.0" filter="url(#b2)"/>
<path d="M108.30,515.54 C108.30,513.90 110.30,513.90 113.85,513.90 C117.40,513.90 119.40,513.90 119.40,515.54 C119.40,518.62 108.30,518.62 108.30,515.54Z" fill="#050505" opacity="1.0" filter="url(#b2)"/>
<line x1="62" y1="525.6" x2="119" y2="525.6" stroke="#5a5a5a" stroke-width="1.5"/>
<text x="88.70" y="537.40" font-size="8.2" font-weight="bold" text-anchor="middle" fill="#000" stroke="#000" stroke-width="0.25" >1301</text>
<text transform="translate(66.8,455.6) rotate(-42)" font-size="8.9" font-weight="bold" stroke="#000" stroke-width="0.2">Control</text>
<text transform="translate(82.3,455.6) rotate(-42)" font-size="8.9" font-weight="bold" stroke="#000" stroke-width="0.2">Sh TERC</text>
<text transform="translate(97.8,455.6) rotate(-42)" font-size="8.9" font-weight="bold" stroke="#000" stroke-width="0.2">Sh hTERT 1</text>
<text transform="translate(113.6,455.6) rotate(-42)" font-size="8.9" font-weight="bold" stroke="#000" stroke-width="0.2">Sh hTERT 2</text>
<text x="132.70" y="471.80" font-size="10" font-weight="bold" text-anchor="start" fill="#000" stroke="#000" stroke-width="0.2" >hTERT</text>
<text x="132.70" y="494.90" font-size="10" font-weight="bold" text-anchor="start" fill="#000" stroke="#000" stroke-width="0.2" >Ki67</text>
<text x="132.70" y="516.20" font-size="10" font-weight="bold" text-anchor="start" fill="#000" stroke="#000" stroke-width="0.2" >Tubulin</text>
<rect x="276.6" y="456.1" width="39.40" height="19.50" fill="#6e6e6e" stroke="#5a5a5a" stroke-width="0.8"/>
<rect x="276.6" y="478.9" width="39.40" height="18.80" fill="#6e6e6e" stroke="#5a5a5a" stroke-width="0.8"/>
<rect x="276.6" y="500.7" width="39.40" height="19.40" fill="#6e6e6e" stroke="#5a5a5a" stroke-width="0.8"/>
<rect x="318.2" y="456.1" width="39.30" height="19.50" fill="#6e6e6e" stroke="#5a5a5a" stroke-width="0.8"/>
<rect x="318.2" y="478.9" width="39.30" height="18.80" fill="#6e6e6e" stroke="#5a5a5a" stroke-width="0.8"/>
<rect x="318.2" y="500.7" width="39.30" height="19.40" fill="#6e6e6e" stroke="#5a5a5a" stroke-width="0.8"/>
<rect x="359.1" y="456.1" width="39.80" height="19.50" fill="#6e6e6e" stroke="#5a5a5a" stroke-width="0.8"/>
<rect x="359.1" y="478.9" width="39.80" height="18.80" fill="#6e6e6e" stroke="#5a5a5a" stroke-width="0.8"/>
<rect x="359.1" y="500.7" width="39.80" height="19.40" fill="#6e6e6e" stroke="#5a5a5a" stroke-width="0.8"/>
<rect x="400.3" y="456.1" width="39.50" height="19.50" fill="#6e6e6e" stroke="#5a5a5a" stroke-width="0.8"/>
<rect x="400.3" y="478.9" width="39.50" height="18.80" fill="#6e6e6e" stroke="#5a5a5a" stroke-width="0.8"/>
<rect x="400.3" y="500.7" width="39.50" height="19.40" fill="#6e6e6e" stroke="#5a5a5a" stroke-width="0.8"/>
<rect x="280.20" y="466.10" width="11.70" height="2.00" rx="1.00" fill="#050505" opacity="0.95" filter="url(#b2)"/>
<rect x="298.80" y="465.20" width="14.70" height="3.50" rx="1.75" fill="#050505" opacity="1.0" filter="url(#b2)"/>
<path d="M320.30,467.90 C320.30,466.50 322.30,466.50 327.45,466.50 C332.60,466.50 334.60,466.50 334.60,467.90 C334.60,470.52 320.30,470.52 320.30,467.90Z" fill="#050505" opacity="1.0" filter="url(#b2)"/>
<path d="M338.90,467.16 C338.90,465.00 340.90,465.00 347.55,465.00 C354.20,465.00 356.20,465.00 356.20,467.16 C356.20,471.21 338.90,471.21 338.90,467.16Z" fill="#050505" opacity="1.0" filter="url(#b2)"/>
<rect x="365.00" y="467.20" width="7.00" height="1.20" rx="0.60" fill="#050505" opacity="0.12" filter="url(#b2)"/>
<rect x="382.00" y="465.00" width="12.40" height="2.20" rx="1.10" fill="#050505" opacity="0.95" filter="url(#b2)"/>
<rect x="408.00" y="463.80" width="3.00" height="1.80" rx="0.90" fill="#050505" opacity="0.5" filter="url(#b2)"/>
<rect x="411.00" y="464.00" width="5.00" height="2.20" rx="1.10" fill="#050505" opacity="0.9" filter="url(#b2)"/>
<rect x="424.70" y="465.10" width="12.10" height="2.60" rx="1.30" fill="#050505" opacity="1.0" filter="url(#b2)"/>
<rect x="279.80" y="483.80" width="5.80" height="4.40" rx="2.20" fill="#050505" opacity="0.95" filter="url(#b2)"/>
<rect x="291.60" y="485.50" width="1.40" height="2.00" rx="1.00" fill="#050505" opacity="0.6" filter="url(#b2)"/>
<rect x="298.80" y="483.80" width="15.20" height="5.40" rx="2.20" fill="#050505" opacity="1.0" filter="url(#b2)"/>
<rect x="305.00" y="488.00" width="7.00" height="6.50" rx="2.20" fill="#050505" opacity="0.35" filter="url(#b1)"/>
<path d="M319.9,484.7 L323,484.9 L331,486.8 L334.6,486.3 L334.6,489.9 L331,489.2 L323,488.8 L319.9,489.6Z" fill="#050505" filter="url(#b2)"/>
<path d="M339.80,488.20 C339.80,486.20 341.80,486.20 347.15,486.20 C352.50,486.20 354.50,486.20 354.50,488.20 C354.50,491.95 339.80,491.95 339.80,488.20Z" fill="#050505" opacity="1.0" filter="url(#b2)"/>
<rect x="374.00" y="487.50" width="2.00" height="2.00" rx="1.00" fill="#050505" opacity="0.5" filter="url(#b2)"/>
<rect x="382.00" y="485.80" width="14.80" height="3.20" rx="1.60" fill="#050505" opacity="1.0" filter="url(#b2)"/>
<rect x="384.00" y="481.00" width="2.00" height="2.00" rx="1.00" fill="#050505" opacity="0.6" filter="url(#b2)"/>
<rect x="394.00" y="481.00" width="2.00" height="2.00" rx="1.00" fill="#050505" opacity="0.6" filter="url(#b2)"/>
<rect x="415.20" y="486.80" width="2.50" height="5.00" rx="2.20" fill="#050505" opacity="0.9" filter="url(#b2)"/>
<rect x="415.60" y="491.00" width="1.60" height="6.00" rx="2.20" fill="#050505" opacity="0.4" filter="url(#b1)"/>
<rect x="423.20" y="485.30" width="12.30" height="12.40" rx="1.50" fill="#050505" opacity="1.0" filter="url(#b2)"/>
<path d="M280.20,511.88 C280.20,509.80 282.20,509.80 287.55,509.80 C292.90,509.80 294.90,509.80 294.90,511.88 C294.90,515.78 280.20,515.78 280.20,511.88Z" fill="#050505" opacity="1.0" filter="url(#b2)"/>
<path d="M298.60,511.80 C298.60,509.80 300.60,509.80 306.00,509.80 C311.40,509.80 313.40,509.80 313.40,511.80 C313.40,515.55 298.60,515.55 298.60,511.80Z" fill="#050505" opacity="1.0" filter="url(#b2)"/>
<path d="M320.80,512.38 C320.80,510.30 322.80,510.30 328.20,510.30 C333.60,510.30 335.60,510.30 335.60,512.38 C335.60,516.28 320.80,516.28 320.80,512.38Z" fill="#050505" opacity="1.0" filter="url(#b2)"/>
<path d="M338.50,511.72 C338.50,509.20 340.50,509.20 346.25,509.20 C352.00,509.20 354.00,509.20 354.00,511.72 C354.00,516.45 338.50,516.45 338.50,511.72Z" fill="#050505" opacity="1.0" filter="url(#b2)"/>
<path d="M361.40,511.16 C361.40,509.00 363.40,509.00 368.20,509.00 C373.00,509.00 375.00,509.00 375.00,511.16 C375.00,515.21 361.40,515.21 361.40,511.16Z" fill="#050505" opacity="1.0" filter="url(#b2)"/>
<path d="M379.90,511.32 C379.90,509.00 381.90,509.00 387.90,509.00 C393.90,509.00 395.90,509.00 395.90,511.32 C395.90,515.67 379.90,515.67 379.90,511.32Z" fill="#050505" opacity="1.0" filter="url(#b2)"/>
<path d="M403.00,511.00 C403.00,509.00 405.00,509.00 410.35,509.00 C415.70,509.00 417.70,509.00 417.70,511.00 C417.70,514.75 403.00,514.75 403.00,511.00Z" fill="#050505" opacity="1.0" filter="url(#b2)"/>
<path d="M424.40,510.30 C424.40,508.50 426.40,508.50 430.80,508.50 C435.20,508.50 437.20,508.50 437.20,510.30 C437.20,513.67 424.40,513.67 424.40,510.30Z" fill="#050505" opacity="1.0" filter="url(#b2)"/>
<text transform="translate(281.90,453.4) rotate(-41)" font-size="8.5" font-weight="bold" stroke="#000" stroke-width="0.2">Control</text>
<text transform="translate(303.60,452.6) rotate(-42)" font-size="8.5" font-weight="bold" stroke="#000" stroke-width="0.2">hTERT</text>
<text transform="translate(323.50,453.4) rotate(-41)" font-size="8.5" font-weight="bold" stroke="#000" stroke-width="0.2">Control</text>
<text transform="translate(345.20,452.6) rotate(-42)" font-size="8.5" font-weight="bold" stroke="#000" stroke-width="0.2">hTERT</text>
<text transform="translate(364.40,453.4) rotate(-41)" font-size="8.5" font-weight="bold" stroke="#000" stroke-width="0.2">Control</text>
<text transform="translate(386.10,452.6) rotate(-42)" font-size="8.5" font-weight="bold" stroke="#000" stroke-width="0.2">hTERT</text>
<text transform="translate(405.60,453.4) rotate(-41)" font-size="8.5" font-weight="bold" stroke="#000" stroke-width="0.2">Control</text>
<text transform="translate(426.30,452.6) rotate(-47)" font-size="7.6" font-weight="bold" stroke="#000" stroke-width="0.2">hTERT</text>
<text x="449.50" y="471.75" font-size="10" font-weight="bold" text-anchor="start" fill="#000" stroke="#000" stroke-width="0.2" >hTERT</text>
<text x="449.50" y="495.00" font-size="10" font-weight="bold" text-anchor="start" fill="#000" stroke="#000" stroke-width="0.2" >KI67</text>
<text x="449.50" y="518.75" font-size="10" font-weight="bold" text-anchor="start" fill="#000" stroke="#000" stroke-width="0.2" >Tubulin</text>
<text x="296.50" y="532.30" font-size="8.2" font-weight="bold" text-anchor="middle" fill="#000" stroke="#000" stroke-width="0.3" >1301</text>
<text x="336.60" y="532.30" font-size="8.2" font-weight="bold" text-anchor="middle" fill="#000" stroke="#000" stroke-width="0.3" >My-La</text>
<text x="378.10" y="532.30" font-size="8.2" font-weight="bold" text-anchor="middle" fill="#000" stroke="#000" stroke-width="0.3" >FE-PD</text>
<text x="421.10" y="532.30" font-size="8.2" font-weight="bold" text-anchor="middle" fill="#000" stroke="#000" stroke-width="0.3" >Hut78</text>
<text transform="translate(-0.4,570.6)" font-size="18.5" font-weight="bold" stroke="#000" stroke-width="0.4">D</text>
<text x="122.50" y="570.90" font-size="12" font-weight="normal" text-anchor="start" fill="#000" stroke="#000" stroke-width="0.15" >Telomerase inhibition induces senescence markers</text>
<rect x="103.8" y="598.4" width="353.90" height="29.90" fill="#eeeeee"/>
<rect x="103.8" y="582.8" width="353.90" height="15.60" fill="#fbfbfb"/>
<path d="M103.8,628.3 V582.8 H457.7 V673.2 H18.5 V628.3 H457.7 M103.8,598.4 H457.7 M276.8,582.8 V673.2 M188.9,598.4 V673.2 M367,598.4 V673.2 M103.8,628.3 V673.2" stroke="#2a2a2a" stroke-width="1.1" fill="none"/>
<text x="190.30" y="594.30" font-size="8.5" font-weight="bold" text-anchor="middle" fill="#000" stroke="#000" stroke-width="0.2" >1301</text>
<text x="367.25" y="594.30" font-size="8.5" font-weight="bold" text-anchor="middle" fill="#000" stroke="#000" stroke-width="0.2" >My-La</text>
<text x="146.35" y="612.20" font-size="8" font-weight="bold" text-anchor="middle" fill="#111" stroke="#111" stroke-width="0.15" >p53 expression level</text>
<text x="146.35" y="622.00" font-size="8" font-weight="bold" text-anchor="middle" fill="#111" stroke="#111" stroke-width="0.15" >(relative to EF1<tspan font-weight="normal" font-size="9">α</tspan>)</text>
<text x="232.85" y="612.20" font-size="8" font-weight="bold" text-anchor="middle" fill="#111" stroke="#111" stroke-width="0.15" >p21 expression level</text>
<text x="232.85" y="622.00" font-size="8" font-weight="bold" text-anchor="middle" fill="#111" stroke="#111" stroke-width="0.15" >(relative to EF1<tspan font-weight="normal" font-size="9">α</tspan>)</text>
<text x="321.90" y="612.20" font-size="8" font-weight="bold" text-anchor="middle" fill="#111" stroke="#111" stroke-width="0.15" >p53 expression level</text>
<text x="321.90" y="622.00" font-size="8" font-weight="bold" text-anchor="middle" fill="#111" stroke="#111" stroke-width="0.15" >(relative to EF1<tspan font-weight="normal" font-size="9">α</tspan>)</text>
<text x="412.35" y="612.20" font-size="8" font-weight="bold" text-anchor="middle" fill="#111" stroke="#111" stroke-width="0.15" >p21 expression level</text>
<text x="412.35" y="622.00" font-size="8" font-weight="bold" text-anchor="middle" fill="#111" stroke="#111" stroke-width="0.15" >(relative to EF1<tspan font-weight="normal" font-size="9">α</tspan>)</text>
<text x="19.40" y="637.80" font-size="8" font-weight="normal" text-anchor="start" fill="#111" stroke="#111" stroke-width="0.3" >Scramble</text>
<text x="146.35" y="637.80" font-size="8" font-weight="bold" text-anchor="middle" fill="#111" stroke="#111" stroke-width="0.15" >1</text>
<text x="232.85" y="637.80" font-size="8" font-weight="bold" text-anchor="middle" fill="#111" stroke="#111" stroke-width="0.15" >1</text>
<text x="321.90" y="637.80" font-size="8" font-weight="bold" text-anchor="middle" fill="#111" stroke="#111" stroke-width="0.15" >1</text>
<text x="412.35" y="637.80" font-size="8" font-weight="bold" text-anchor="middle" fill="#111" stroke="#111" stroke-width="0.15" >1</text>
<text x="19.40" y="648.80" font-size="8" font-weight="normal" text-anchor="start" fill="#111" stroke="#111" stroke-width="0.3" >Sh TERC</text>
<text x="146.35" y="648.80" font-size="8" font-weight="bold" text-anchor="middle" fill="#111" stroke="#111" stroke-width="0.15" >3.736</text>
<text x="232.85" y="648.80" font-size="8" font-weight="bold" text-anchor="middle" fill="#111" stroke="#111" stroke-width="0.15" >3.41</text>
<text x="321.90" y="648.80" font-size="8" font-weight="bold" text-anchor="middle" fill="#111" stroke="#111" stroke-width="0.15" >2.87</text>
<text x="412.35" y="648.80" font-size="8" font-weight="bold" text-anchor="middle" fill="#111" stroke="#111" stroke-width="0.15" >6.16</text>
<text x="19.40" y="660.20" font-size="8" font-weight="normal" text-anchor="start" fill="#111" stroke="#111" stroke-width="0.3" >Sh hTERT1</text>
<text x="146.35" y="660.20" font-size="8" font-weight="bold" text-anchor="middle" fill="#111" stroke="#111" stroke-width="0.15" >278</text>
<text x="232.85" y="660.20" font-size="8" font-weight="bold" text-anchor="middle" fill="#111" stroke="#111" stroke-width="0.15" >24.7</text>
<text x="321.90" y="660.20" font-size="8" font-weight="bold" text-anchor="middle" fill="#111" stroke="#111" stroke-width="0.15" >5.91</text>
<text x="412.35" y="660.20" font-size="8" font-weight="bold" text-anchor="middle" fill="#111" stroke="#111" stroke-width="0.15" >10.83</text>
<text x="19.40" y="671.00" font-size="8" font-weight="normal" text-anchor="start" fill="#111" stroke="#111" stroke-width="0.3" >Sh hTERT2</text>
<text x="146.35" y="671.00" font-size="8" font-weight="bold" text-anchor="middle" fill="#111" stroke="#111" stroke-width="0.15" >5.68</text>
<text x="232.85" y="671.00" font-size="8" font-weight="bold" text-anchor="middle" fill="#111" stroke="#111" stroke-width="0.15" >2.52</text>
<text x="321.90" y="671.00" font-size="8" font-weight="bold" text-anchor="middle" fill="#111" stroke="#111" stroke-width="0.15" >3.96</text>
<text x="412.35" y="671.00" font-size="8" font-weight="bold" text-anchor="middle" fill="#111" stroke="#111" stroke-width="0.15" >3.13</text>
</svg>
</body></html>
